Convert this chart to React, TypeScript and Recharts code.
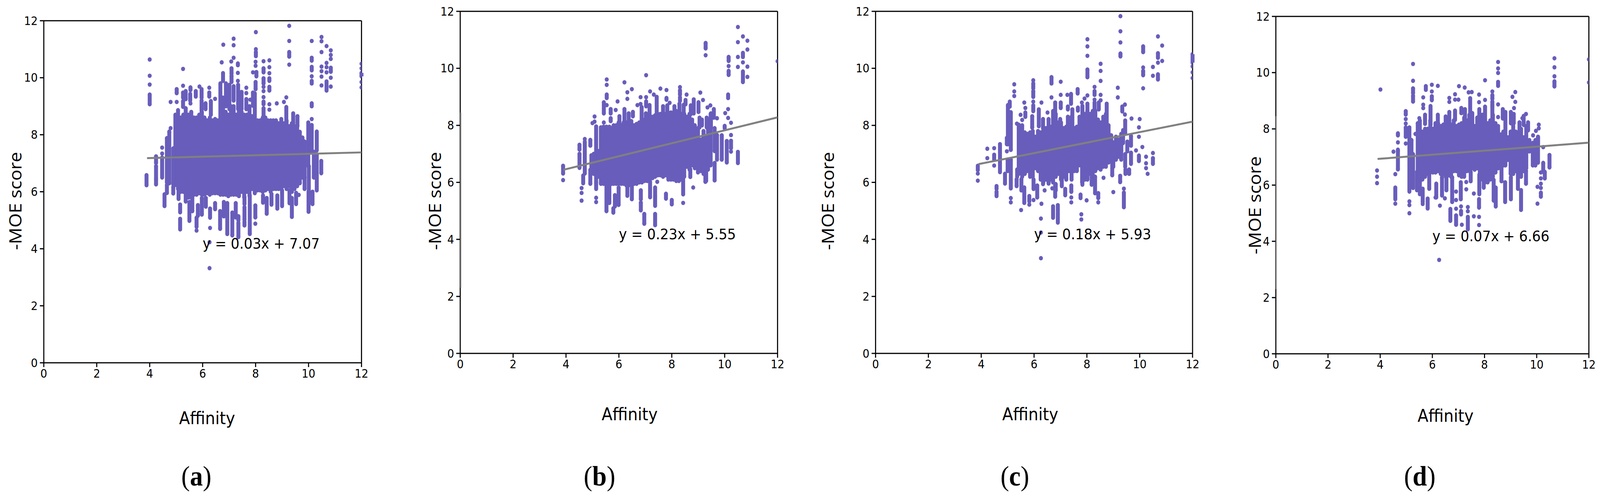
import { ScatterChart, Scatter, XAxis, YAxis, ErrorBar, ReferenceLine, ReferenceDot } from "recharts";

type Run = [number, number, number];
type Dot = [number, number];

const ticks = [0, 2, 4, 6, 8, 10, 12];

// solid stacks of overlapping dots: x, low, high
const coreA: Run[] = [
  [4.97, 6.24, 8.7], [5.07, 6.1, 8.86], [5.17, 6.0, 8.6], [5.27, 6.0, 8.7], [5.37, 5.9, 8.7], [5.47, 5.8, 8.7],
  [5.57, 5.8, 8.8], [5.67, 5.9, 8.6], [5.77, 5.9, 8.6], [5.87, 5.95, 8.7], [5.97, 5.9, 8.8], [6.07, 5.9, 8.6],
  [6.17, 5.95, 8.5], [6.27, 5.9, 8.6], [6.37, 5.95, 8.5], [6.47, 5.95, 8.55], [6.57, 5.95, 8.5], [6.67, 5.9, 9.8],
  [6.77, 5.9, 9.3], [6.87, 5.9, 8.8], [6.97, 5.85, 8.7], [7.07, 5.9, 9.0], [7.17, 5.9, 9.0], [7.27, 5.9, 8.7],
  [7.37, 5.85, 8.8], [7.47, 6.0, 8.8], [7.57, 5.8, 8.7], [7.67, 6.0, 8.7], [7.77, 5.85, 9.0], [7.87, 6.1, 8.65],
  [7.97, 5.95, 9.45], [8.07, 6.05, 8.5], [8.17, 6.05, 8.5], [8.27, 6.0, 8.6], [8.37, 6.05, 8.6], [8.47, 6.1, 8.5],
  [8.57, 6.0, 8.5], [8.67, 6.1, 8.5], [8.77, 6.1, 8.5], [8.87, 6.1, 8.4], [8.97, 6.1, 8.55], [9.07, 6.2, 8.4],
  [9.17, 6.1, 8.5], [9.27, 6.2, 8.3], [9.37, 6.0, 8.4], [9.47, 6.1, 8.3], [9.57, 6.2, 8.3], [9.67, 6.3, 8.1],
  [9.77, 6.5, 7.9],
];

const fringeA: Run[] = [
  [3.88, 6.23, 6.58], [4.0, 9.07, 9.41], [4.24, 7.01, 7.24], [4.24, 6.46, 6.9], [4.24, 6.26, 6.42],
  [4.47, 6.5, 7.2], [4.56, 5.5, 5.91], [4.65, 5.96, 6.24], [4.65, 6.33, 7.88], [4.74, 6.3, 8.11],
  [4.89, 5.94, 6.17], [4.89, 6.26, 7.52], [5.02, 9.46, 9.6], [5.09, 5.75, 6.15], [5.15, 5.28, 5.55],
  [5.15, 4.68, 5.05], [5.26, 9.3, 9.48], [5.26, 8.98, 9.18], [5.36, 9.25, 9.53], [5.36, 5.66, 6.0],
  [5.36, 8.7, 8.93], [5.5, 4.98, 5.64], [5.53, 9.2, 9.43], [5.54, 9.57, 9.66], [5.61, 5.32, 5.8],
  [5.74, 9.34, 9.53], [5.77, 4.77, 5.09], [5.82, 5.16, 5.53], [5.96, 9.3, 9.6], [5.96, 8.57, 9.2],
  [5.97, 5.2, 5.78], [6.11, 8.9, 9.1], [6.12, 5.48, 5.78], [6.25, 9.34, 9.48], [6.28, 5.09, 5.41],
  [6.31, 8.7, 9.18], [6.47, 5.39, 5.6], [6.66, 4.7, 5.32], [6.77, 9.89, 10.16], [6.8, 5.14, 5.64],
  [6.88, 9.0, 9.8], [6.93, 4.52, 5.6], [7.01, 8.9, 9.75], [7.09, 10.14, 10.33], [7.09, 9.85, 10.07],
  [7.12, 4.47, 5.27], [7.17, 9.2, 9.7], [7.25, 5.1, 5.6], [7.33, 10.44, 10.5], [7.34, 8.9, 9.75],
  [7.35, 4.41, 4.91], [7.35, 5.0, 5.14], [7.47, 8.9, 9.5], [7.58, 5.57, 5.82], [7.58, 5.02, 5.46],
  [7.58, 4.82, 4.95], [7.65, 8.9, 9.25], [7.78, 4.52, 5.87], [7.9, 9.02, 9.48],
  [7.99, 5.1, 5.52], [8.0, 9.6, 9.85], [8.01, 10.76, 10.9], [8.03, 10.05, 10.2], [8.28, 5.62, 5.87],
  [8.3, 10.19, 10.33], [8.3, 9.8, 9.98], [8.3, 9.07, 9.16], [8.3, 8.6, 8.93], [8.42, 5.23, 5.78],
  [8.52, 9.89, 9.98], [8.52, 9.55, 9.68], [8.6, 5.55, 5.92], [8.82, 5.41, 5.87], [9.0, 5.5, 6.05],
  [9.16, 8.5, 8.97], [9.27, 10.74, 10.9], [9.28, 5.6, 6.05], [9.37, 5.12, 5.78], [9.42, 8.4, 8.75],
  [9.53, 5.57, 5.96], [9.58, 8.3, 8.65], [9.85, 6.5, 7.76], [9.85, 6.1, 6.5], [9.99, 6.9, 8.43],
  [10.0, 5.3, 6.0], [10.01, 6.0, 6.9], [10.12, 10.6, 10.7], [10.12, 10.26, 10.38], [10.12, 9.8, 9.89],
  [10.12, 9.0, 9.1], [10.12, 7.4, 8.34], [10.15, 5.57, 6.0], [10.2, 6.5, 7.4], [10.31, 7.45, 8.11],
  [10.31, 6.05, 7.3], [10.48, 6.65, 7.08], [10.68, 9.55, 9.87], [10.84, 10.21, 10.35], [12, 10.05, 10.17],
];

const dotsA: Dot[] = [
  [4.0, 10.64], [4.0, 10.07], [4.0, 9.76], [4.47, 7.55], [4.47, 7.34], [4.79, 9.15], [4.79, 8.23], [5.02, 9.15],
  [5.26, 10.31], [5.26, 9.72], [5.54, 9.1], [5.88, 9.69], [6.25, 9.65], [6.28, 4.73], [6.26, 4.23], [6.26, 3.32],
  [6.47, 9.26], [6.72, 10.54], [6.78, 11.16], [7.17, 11.37], [7.17, 11.14], [7.17, 10.7], [7.08, 10.57], [7.33, 10.17],
  [7.33, 9.89], [7.65, 9.65], [7.65, 9.46], [7.8, 9.23], [7.9, 10.19], [8.01, 11.6], [8.01, 11.0], [8.0, 10.56], [8.0, 10.42],
  [7.99, 4.88], [8.3, 10.58], [8.3, 9.68], [8.3, 9.53], [8.3, 9.32], [8.52, 10.61], [8.52, 10.37], [8.52, 10.16],
  [8.52, 9.07], [8.52, 8.88], [8.8, 9.1], [9.07, 9.15], [9.16, 9.31], [9.27, 11.82], [9.27, 11.29], [9.27, 10.46],
  [9.63, 5.89], [10.12, 11.29], [10.12, 10.05], [10.12, 8.55], [10.49, 11.43], [10.49, 11.28], [10.49, 10.9],
  [10.49, 10.39], [10.49, 10.23], [10.49, 10.04], [10.49, 9.73], [10.68, 11.11], [10.68, 10.52], [10.68, 10.37],
  [10.68, 10.19], [10.84, 10.96], [10.84, 10.8], [10.84, 10.66], [10.84, 10.0], [10.84, 9.69], [12, 10.49],
  [12, 10.33], [12, 9.85], [12, 9.66], [5.77, 4.64],
];

const coreB: Run[] = [
  [5.14, 6.0, 7.96], [5.24, 6.2, 7.1], [5.32, 5.95, 7.93], [5.42, 5.95, 7.95], [5.53, 5.9, 7.95], [5.64, 5.9, 7.95],
  [5.72, 5.95, 7.9], [5.8, 5.95, 8.0], [5.9, 5.95, 8.0], [5.99, 5.95, 8.1], [6.09, 5.95, 8.0], [6.18, 5.95, 8.1],
  [6.28, 5.9, 8.1], [6.37, 5.9, 8.1], [6.47, 5.9, 8.15], [6.57, 5.95, 8.0], [6.67, 5.95, 8.05], [6.77, 6.0, 8.1],
  [6.87, 6.0, 8.2], [6.97, 6.05, 8.2], [7.07, 6.05, 8.3], [7.17, 6.1, 8.3], [7.27, 6.15, 8.3], [7.37, 6.2, 8.35],
  [7.47, 6.25, 8.4], [7.57, 6.25, 8.4], [7.67, 6.2, 8.35], [7.77, 6.25, 8.4], [7.87, 6.1, 8.45], [7.97, 6.1, 8.45],
  [8.07, 6.1, 8.45], [8.17, 6.05, 8.5], [8.27, 6.05, 8.45], [8.37, 6.1, 8.4], [8.47, 6.2, 8.4], [8.57, 6.55, 8.3],
  [8.67, 6.45, 8.4], [8.77, 6.6, 8.2], [8.87, 6.5, 8.0], [8.99, 6.35, 7.9], [9.1, 6.4, 7.5], [9.2, 6.3, 7.8],
  [9.3, 6.05, 7.6], [9.37, 6.45, 8.2], [9.47, 6.6, 8.4],
];

const fringeB: Run[] = [
  [3.89, 6.31, 6.58], [4.51, 7.15, 7.32], [4.51, 6.51, 7.0], [4.71, 6.31, 7.42], [4.65, 5.97, 6.24],
  [4.92, 7.29, 7.49], [4.92, 5.95, 6.44], [4.96, 6.45, 6.95], [5.05, 6.3, 7.0], [5.14, 5.77, 6.0],
  [5.43, 8.42, 8.81], [5.53, 4.99, 5.97], [5.54, 8.96, 9.08], [5.64, 5.28, 5.97], [5.69, 8.42, 8.57],
  [5.69, 8.15, 8.25], [5.79, 4.94, 5.09], [5.85, 5.16, 5.55], [5.99, 5.21, 5.82], [6.02, 7.98, 8.32],
  [6.21, 8.03, 8.57], [6.32, 5.53, 5.97], [6.37, 8.13, 8.42], [6.49, 5.41, 5.97], [6.53, 8.32, 8.47],
  [6.83, 5.41, 5.72], [6.83, 5.02, 5.29], [6.86, 8.03, 8.64], [6.96, 4.55, 4.89], [7.02, 8.13, 8.42],
  [7.03, 8.67, 8.84], [7.16, 8.32, 8.71], [7.18, 5.48, 6.02], [7.37, 5.5, 5.82], [7.37, 5.18, 5.48],
  [7.37, 4.5, 4.89], [7.43, 8.76, 9.0], [7.43, 8.32, 8.71], [7.67, 8.32, 8.67], [7.78, 5.43, 5.6],
  [7.8, 8.9, 8.96], [7.83, 8.32, 8.7], [8.0, 5.23, 5.38], [8.1, 8.42, 8.67], [8.29, 8.42, 8.76],
  [8.31, 9.08, 9.23], [8.31, 8.86, 8.98], [8.43, 5.58, 6.32], [8.45, 8.4, 8.72], [8.52, 8.74, 8.89],
  [8.7, 6.19, 6.46], [8.72, 8.4, 8.7], [8.83, 8.42, 8.91], [9.01, 8.47, 8.81], [9.05, 7.93, 8.27],
  [9.14, 8.0, 8.2], [9.27, 6.02, 6.4], [9.28, 10.7, 10.89], [9.32, 7.93, 8.27], [9.48, 7.93, 8.42],
  [9.59, 8.27, 8.57], [9.62, 6.07, 6.68], [9.62, 7.1, 7.9], [9.71, 6.8, 7.66], [9.89, 6.8, 7.65],
  [10.0, 7.9, 7.98], [10.08, 6.7, 7.45], [10.13, 8.96, 9.08], [10.15, 10.26, 10.4], [10.15, 9.77, 9.91],
  [10.24, 7.2, 7.46], [10.5, 6.68, 7.07], [10.69, 10.4, 10.54], [10.69, 9.52, 9.89],
];

const dotsB: Dot[] = [
  [3.89, 6.08], [4.59, 5.8], [4.59, 5.63], [4.59, 5.36], [4.71, 7.52], [5.08, 8.31], [5.08, 8.13], [5.0, 8.08],
  [5.14, 5.46], [5.14, 5.31], [5.02, 6.9], [5.43, 8.1], [5.54, 9.61], [5.54, 9.42], [5.54, 8.71], [5.88, 8.54],
  [5.95, 8.84], [6.21, 9.51], [6.32, 9.16], [6.32, 8.93], [6.49, 9.27], [6.82, 8.99], [6.82, 8.75], [6.7, 8.71],
  [7.03, 9.76], [7.03, 8.99], [7.18, 9.19], [7.32, 9.08], [7.45, 6.02], [7.57, 9.29], [7.8, 9.24], [7.92, 8.79],
  [8.31, 9.34], [8.43, 5.28], [8.56, 9.08], [8.81, 5.82], [9.08, 9.15], [9.18, 8.89], [9.35, 8.63],
  [9.46, 8.7], [9.28, 10.46], [9.71, 8.25], [10.02, 8.43], [10.13, 8.57], [10.13, 8.26], [10.15, 10.08], [10.24, 8.09],
  [10.24, 7.66], [10.24, 7.08], [10.5, 11.45], [10.5, 10.92], [10.5, 10.4], [10.5, 10.05], [10.69, 11.12], [10.69, 10.21],
  [10.86, 10.97], [10.86, 10.66], [10.86, 10.06], [10.86, 9.7], [12, 10.25],
];

const coreC: Run[] = [
  [5.42, 6.3, 7.9], [5.55, 6.2, 8.0], [5.65, 6.3, 7.75], [5.75, 6.4, 7.7], [5.85, 6.2, 7.75], [5.95, 6.2, 7.8],
  [6.05, 6.5, 7.6], [6.15, 6.4, 7.8], [6.25, 6.1, 7.75], [6.35, 6.0, 7.9], [6.45, 6.1, 7.9], [6.55, 6.0, 7.85],
  [6.65, 6.1, 7.95], [6.72, 6.0, 8.5], [6.82, 6.2, 8.4], [6.92, 6.3, 8.1], [7.02, 6.1, 8.1], [7.12, 6.2, 7.9],
  [7.22, 6.1, 7.95], [7.32, 6.4, 7.95], [7.42, 6.1, 8.3], [7.52, 6.4, 7.9], [7.62, 6.4, 7.95], [7.72, 6.6, 8.3],
  [7.82, 6.0, 8.3], [7.92, 6.1, 8.4], [8.02, 6.1, 8.5], [8.12, 6.3, 8.4], [8.22, 6.2, 8.5], [8.32, 6.4, 8.5],
  [8.42, 6.5, 8.2], [8.52, 6.45, 8.1], [8.62, 6.55, 8.3], [8.72, 6.55, 8.4], [8.82, 6.7, 8.0], [8.92, 6.9, 7.65],
  [9.0, 6.55, 7.4], [9.1, 6.8, 7.6], [9.2, 6.9, 7.5], [9.3, 7.1, 7.7],
];

const fringeC: Run[] = [
  [3.87, 6.43, 6.58], [4.49, 6.8, 6.97], [4.58, 5.77, 5.87], [4.58, 5.52, 5.67], [4.71, 6.36, 7.34],
  [4.9, 5.96, 6.3], [4.97, 7.34, 7.56], [5.01, 7.34, 8.71], [5.08, 8.66, 8.83], [5.12, 7.14, 8.46],
  [5.12, 5.79, 6.8], [5.0, 6.4, 6.8], [5.36, 6.2, 6.45], [5.34, 5.87, 6.11], [5.42, 7.9, 8.02],
  [5.52, 5.72, 6.11], [5.63, 5.28, 5.82], [5.67, 8.3, 8.45], [5.82, 5.33, 5.52], [5.93, 7.92, 8.32],
  [5.97, 9.3, 9.47], [5.97, 9.0, 9.2], [5.97, 8.5, 8.7], [5.98, 5.77, 6.1], [6.12, 5.47, 5.89],
  [6.18, 7.97, 8.56], [6.34, 5.94, 6.45], [6.34, 7.9, 8.22], [6.55, 7.92, 8.22], [6.55, 5.96, 6.21],
  [6.66, 9.47, 9.69], [6.72, 4.76, 5.16], [6.8, 5.5, 5.9], [6.8, 7.92, 8.8], [6.82, 5.72, 5.94],
  [6.9, 4.59, 4.93], [6.9, 5.0, 5.2], [6.99, 7.92, 8.22], [7.01, 8.61, 8.8], [7.05, 5.87, 6.45],
  [7.18, 5.55, 5.77], [7.28, 7.92, 8.3], [7.28, 8.56, 8.66], [7.4, 8.76, 9.1], [7.41, 5.67, 5.89],
  [7.45, 7.92, 8.56], [7.65, 9.12, 9.27], [7.66, 8.52, 8.62], [7.76, 5.45, 5.57], [7.83, 5.92, 6.2],
  [7.83, 8.27, 8.68], [8.02, 9.69, 9.96], [8.02, 8.5, 8.76], [8.18, 5.92, 6.2], [8.29, 9.07, 9.2],
  [8.29, 8.27, 8.8], [8.31, 5.62, 6.2], [8.43, 5.45, 5.62], [8.45, 8.56, 8.8], [8.75, 8.07, 8.76],
  [8.96, 6.25, 6.8], [9.26, 6.01, 6.23], [9.27, 10.42, 10.52], [9.3, 6.8, 7.48], [9.34, 8.49, 8.66],
  [9.37, 7.38, 7.83], [9.4, 5.13, 5.64], [9.45, 6.55, 6.99], [9.45, 7.73, 8.17], [9.46, 6.3, 6.45],
  [9.53, 7.09, 7.43], [9.6, 6.3, 6.45], [9.67, 7.29, 7.63], [9.67, 6.65, 7.04], [9.97, 6.75, 6.94],
  [10.13, 10.57, 10.77], [10.13, 9.76, 9.91], [10.5, 6.65, 6.85], [10.69, 10.37, 10.53], [10.69, 9.61, 9.79],
  [12, 10.2, 10.5],
];

const dotsC: Dot[] = [
  [3.87, 6.31], [3.87, 6.06], [4.23, 7.18], [4.23, 6.85], [4.49, 7.2], [4.49, 6.59], [4.97, 7.09], [5.12, 5.45],
  [5.12, 5.3], [5.25, 9.44], [5.25, 9.19], [5.25, 9.03], [5.35, 8.06], [5.51, 5.03], [5.49, 8.37], [5.55, 8.19],
  [5.63, 8.8], [5.67, 8.61], [5.82, 5.22], [5.97, 9.58], [5.97, 8.83], [5.98, 5.38], [6.28, 5.25], [6.28, 8.8],
  [6.26, 4.73], [6.26, 4.24], [6.26, 3.34], [6.51, 8.45], [6.66, 8.98], [7.01, 9.53], [7.01, 9.07], [6.4, 5.72],
  [6.69, 5.79], [7.26, 9.07], [7.41, 5.47], [7.41, 5.3], [7.79, 4.88], [7.79, 4.7], [7.99, 5.37], [8.02, 11.02],
  [8.02, 10.77], [8.02, 10.44], [7.91, 8.94], [8.02, 9.05], [7.81, 8.8], [8.29, 9.35], [8.29, 8.9], [8.52, 10.16],
  [8.52, 9.91], [8.52, 9.56], [8.52, 9.07], [8.52, 8.88], [8.43, 5.3], [8.63, 6.16], [9.0, 5.66], [9.17, 9.32],
  [9.17, 8.98], [9.27, 11.83], [9.27, 11.3], [9.27, 10.91], [9.4, 5.78], [9.44, 8.73], [9.44, 8.38], [9.69, 8.24],
  [10.0, 8.22], [9.97, 7.93], [9.97, 7.6], [9.86, 7.12], [10.1, 7.24], [10.13, 10.03], [10.13, 9.3], [10.5, 10.05],
  [10.5, 9.74], [10.5, 7.03], [10.69, 11.12], [10.69, 10.2], [10.85, 10.8], [10.85, 10.26], [10.24, 6.9], [10.24, 6.67],
  [10.24, 6.5], [10.3, 6.3], [12, 10.07], [12, 9.86], [12, 9.66],
];

const coreD: Run[] = [
  [5.44, 6.3, 8.2], [5.52, 6.1, 8.3], [5.62, 6.2, 7.9], [5.72, 6.3, 8.0], [5.82, 6.4, 8.0], [5.92, 6.45, 8.3],
  [6.02, 6.45, 8.0], [6.12, 6.45, 8.2], [6.22, 6.5, 8.2], [6.32, 6.4, 8.1], [6.42, 6.4, 8.15], [6.52, 6.3, 8.2],
  [6.62, 6.35, 8.3], [6.72, 6.3, 8.15], [6.82, 6.5, 8.3], [6.92, 6.5, 8.1], [7.02, 6.35, 8.15], [7.12, 6.3, 8.2],
  [7.22, 6.3, 8.4], [7.32, 6.5, 8.3], [7.42, 6.5, 8.5], [7.52, 6.6, 8.2], [7.62, 6.55, 8.1], [7.72, 6.6, 8.4],
  [7.82, 6.2, 8.5], [7.92, 6.2, 8.5], [8.02, 6.1, 8.3], [8.12, 6.1, 8.2], [8.22, 6.2, 8.3], [8.32, 6.3, 8.5],
  [8.42, 6.45, 8.2], [8.52, 6.6, 8.1], [8.62, 6.7, 7.8], [8.72, 6.7, 7.9], [8.8, 6.7, 8.6], [8.9, 6.9, 7.7],
  [9.0, 6.4, 7.9], [9.1, 6.4, 8.1], [9.2, 6.5, 7.9], [9.3, 6.4, 7.8], [9.4, 6.3, 8.0], [9.5, 6.5, 7.7],
  [9.6, 6.6, 8.1], [9.72, 7.2, 7.6], [9.85, 6.7, 7.5], [9.95, 6.7, 7.6], [10.05, 6.8, 7.7],
];

const fringeD: Run[] = [
  [4.58, 5.5, 5.91], [4.68, 7.77, 7.84], [4.68, 6.56, 7.26], [4.98, 8.51, 8.63], [4.98, 7.72, 8.05],
  [5.12, 5.77, 8.05], [5.26, 9.27, 9.44], [5.26, 8.97, 9.18], [5.26, 5.9, 7.1], [5.2, 6.2, 7.6],
  [5.41, 5.82, 6.47], [5.52, 5.68, 6.2], [5.63, 5.4, 5.87], [5.72, 8.18, 8.5], [5.75, 9.39, 9.52],
  [5.82, 5.17, 5.52], [5.88, 5.87, 6.38], [5.93, 8.14, 8.81], [5.98, 9.02, 9.16], [6.15, 5.56, 6.05],
  [6.21, 8.14, 8.5], [6.37, 5.63, 6.28], [6.51, 8.2, 8.44], [6.54, 5.82, 6.28], [6.65, 8.18, 8.6],
  [6.69, 4.73, 5.15], [6.76, 5.4, 6.28], [6.87, 8.32, 8.65], [6.91, 4.59, 4.92], [7.09, 5.5, 6.1],
  [7.1, 4.96, 5.08], [7.11, 8.56, 8.74], [7.25, 8.32, 8.7], [7.36, 4.43, 4.87], [7.45, 8.42, 9.09],
  [7.47, 6.14, 6.47], [7.53, 8.18, 8.56], [7.79, 5.2, 5.5], [7.8, 5.68, 6.37], [7.8, 8.28, 8.7],
  [7.97, 5.91, 6.28], [8.02, 8.32, 8.79], [8.3, 8.32, 8.79], [8.3, 8.83, 8.97], [8.3, 9.07, 9.2],
  [8.35, 5.45, 6.19], [8.43, 5.24, 5.91], [8.52, 9.53, 9.67], [8.65, 6.14, 6.6], [8.7, 8.37, 8.7],
  [8.79, 5.4, 6.1], [9.01, 5.5, 6.28], [9.01, 8.2, 8.6], [9.12, 8.2, 8.53], [9.28, 5.87, 6.47],
  [9.34, 7.9, 8.23], [9.4, 5.12, 5.82], [9.5, 8.14, 8.46], [9.59, 6.05, 6.52], [9.67, 7.95, 8.23],
  [9.94, 6.75, 7.2], [10.05, 7.4, 7.72], [10.25, 6.47, 6.79], [10.31, 6.24, 6.47], [10.16, 5.59, 5.73],
  [10.49, 6.63, 7.07], [10.68, 9.51, 9.69],
];

const dotsD: Dot[] = [
  [3.88, 6.52], [3.88, 6.3], [3.88, 6.07], [4.01, 9.4], [4.51, 7.19], [4.58, 6.39], [4.58, 5.34], [4.68, 7.52],
  [4.68, 7.21], [4.98, 8.35], [4.98, 8.19], [4.98, 7.48], [5.12, 5.42], [5.12, 5.29], [5.12, 5.0], [5.26, 10.31],
  [5.26, 9.71], [5.35, 7.82], [5.98, 9.57], [5.98, 9.33], [6.21, 9.53], [5.65, 9.12], [5.65, 8.86], [5.65, 8.74],
  [5.93, 8.7], [5.5, 8.38], [7.02, 9.52], [7.24, 9.47], [6.87, 9.23], [6.87, 9.04], [6.65, 9.1], [6.65, 8.96],
  [7.0, 9.04], [7.39, 9.3], [7.51, 9.31], [7.79, 9.22], [7.79, 8.95], [8.02, 9.73], [8.02, 9.03], [8.3, 9.33],
  [8.52, 10.38], [8.52, 10.15], [8.52, 9.99], [8.52, 8.87], [8.52, 8.42], [9.18, 9.31], [9.18, 8.96], [9.07, 9.14],
  [9.13, 8.74], [10.68, 10.51], [10.68, 10.19], [10.68, 9.87], [12, 10.47], [12, 9.65], [10.08, 8.15], [10.08, 8.02],
  [9.97, 7.93], [9.86, 7.77], [10.25, 7.35], [10.16, 6.45], [10.16, 6.24], [10.16, 6.05], [10.16, 5.9], [10.03, 5.94],
  [10.03, 5.34], [9.59, 8.53], [9.45, 8.38], [7.79, 4.87], [7.79, 4.58], [7.59, 5.7], [7.59, 4.89], [7.36, 5.22],
  [7.36, 5.07], [7.3, 6.11], [7.3, 5.85], [7.1, 5.24], [7.13, 4.59], [6.91, 5.16], [6.91, 5.77], [6.91, 5.47],
  [6.29, 5.27], [6.48, 5.53], [6.12, 5.56], [5.63, 5.33], [6.26, 3.34],
];

const fitA: Dot[] = [[3.9, 7.18], [12, 7.38]];
const fitB: Dot[] = [[3.9, 6.44], [12, 8.28]];
const fitC: Dot[] = [[3.9, 6.64], [12, 8.13]];
const fitD: Dot[] = [[3.9, 6.93], [12, 7.51]];

// stretch of the left spine that shows grey in (b) and (d)
const spinePatch: Dot[] = [[0, 2.3], [0, 8.45]];

const PURPLE = "#685DBB";
const GREY = "#808080";
const PAD = 170;
const W = 4457;
const H = 1279;
const FONT = "DejaVu Sans";

interface PanelProps {
  plot: { left: number; right: number; top: number; bottom: number };
  runs: Run[];
  dots: Dot[];
  fit: Dot[];
  equation: string;
  yTitleX: number;
  yTitleY: number;
  xTitleX: number;
  xTitleY: number;
  letter: string;
  letterX: number;
  patch?: string;
}

function Panel({ plot, runs, dots, fit, equation, yTitleX, yTitleY, xTitleX, xTitleY, letter, letterX, patch }: PanelProps) {
  const width = plot.right - plot.left + PAD + 50;
  const runData = runs.map(([x, lo, hi]) => ({ x, y: lo, err: [0, hi - lo] }));
  const pointData = [
    ...runs.flatMap(([x, lo, hi]) => [{ x, y: lo }, { x, y: hi }]),
    ...dots.map(([x, y]) => ({ x, y })),
  ];
  const fitData = fit.map(([x, y]) => ({ x, y }));
  const left = plot.left - PAD;
  return (
    <>
      <div style={{ position: "absolute", left, top: 0 }}>
        <ScatterChart
          width={width}
          height={H}
          margin={{ left: PAD - 60, right: 50, top: plot.top, bottom: H - plot.bottom - 60 }}
        >
          <XAxis
            type="number"
            dataKey="x"
            domain={[0, 12]}
            ticks={ticks}
            allowDataOverflow
            height={60}
            tickSize={11}
            tickMargin={6}
            interval={0}
            stroke="#000"
            strokeWidth={3}
            tick={{ fontSize: 30, fontFamily: FONT, fill: "#000" }}
          />
          <YAxis
            type="number"
            dataKey="y"
            domain={[0, 12]}
            ticks={ticks}
            allowDataOverflow
            width={60}
            tickSize={11}
            tickMargin={6}
            interval={0}
            stroke="#000"
            strokeWidth={3}
            tick={{ fontSize: 30, fontFamily: FONT, fill: "#000" }}
          />
          <ReferenceLine x={12} stroke="#000" strokeWidth={3} />
          <ReferenceLine y={12} stroke="#000" strokeWidth={3} />
          {patch && (
            <Scatter
              data={spinePatch.map(([x, y]) => ({ x, y }))}
              isAnimationActive={false}
              line={{ stroke: patch, strokeWidth: 6 }}
              shape={() => null}
            />
          )}
          <Scatter data={runData} isAnimationActive={false} shape={() => null}>
            <ErrorBar dataKey="err" direction="y" width={0} stroke={PURPLE} strokeWidth={11} isAnimationActive={false} />
          </Scatter>
          <Scatter
            data={pointData}
            isAnimationActive={false}
            shape={(p: any) => <circle cx={p.cx} cy={p.cy} r={5.6} fill={PURPLE} />}
          />
          <Scatter
            data={fitData}
            isAnimationActive={false}
            line={{ stroke: GREY, strokeWidth: 5 }}
            shape={() => null}
          />
          <ReferenceDot
            x={6}
            y={4}
            r={0}
            ifOverflow="visible"
            shape={(p: any) => (
              <text x={p.cx} y={p.cy} fontSize={38} fontFamily={FONT} fill="#000">
                {equation}
              </text>
            )}
          />
          <text
            x={yTitleX - left}
            y={yTitleY}
            fontSize={47}
            fontFamily="Open Sans"
            fill="#000"
            textAnchor="middle"
            dominantBaseline="central"
            transform={`rotate(-90 ${yTitleX - left} ${yTitleY})`}
          >
            -MOE score
          </text>
          <text
            x={xTitleX - left}
            y={xTitleY}
            fontSize={44}
            fontFamily={FONT}
            fill="#000"
            textAnchor="middle"
            dominantBaseline="central"
          >
            Affinity
          </text>
        </ScatterChart>
      </div>
      <div
        style={{
          position: "absolute",
          left: letterX - 100,
          top: 1170,
          width: 200,
          textAlign: "center",
          fontFamily: "Liberation Serif",
          fontSize: 72,
          lineHeight: "96px",
          color: "#000",
        }}
      >
        (<b>{letter}</b>)
      </div>
    </>
  );
}

export default function App() {
  // the browser window can come out narrower than the 4457px layout
  const fit = Math.min(1, window.innerWidth / W);
  return (
    <div
      style={{
        position: "absolute",
        left: 0,
        top: 0,
        width: W,
        height: H,
        background: "#fff",
        transform: `scaleX(${fit})`,
        transformOrigin: "0 0",
      }}
    >
      <Panel
        plot={{ left: 122, right: 1007, top: 53, bottom: 928 }}
        runs={[...coreA, ...fringeA]}
        dots={dotsA}
        fit={fitA}
        equation="y = 0.03x + 7.07"
        yTitleX={42}
        yTitleY={514}
        xTitleX={577}
        xTitleY={1070}
        letter="a"
        letterX={547}
      />
      <Panel
        plot={{ left: 1282, right: 2166, top: 29, bottom: 904 }}
        runs={[...coreB, ...fringeB]}
        dots={dotsB}
        fit={fitB}
        equation="y = 0.23x + 5.55"
        yTitleX={1210}
        yTitleY={514}
        xTitleX={1754}
        xTitleY={1060}
        letter="b"
        letterX={1670}
        patch="#8a8a8a"
      />
      <Panel
        plot={{ left: 2439, right: 3322, top: 29, bottom: 904 }}
        runs={[...coreC, ...fringeC]}
        dots={dotsC}
        fit={fitC}
        equation="y = 0.18x + 5.93"
        yTitleX={2305}
        yTitleY={514}
        xTitleX={2870}
        xTitleY={1060}
        letter="c"
        letterX={2827}
      />
      <Panel
        plot={{ left: 3554, right: 4426, top: 42, bottom: 905 }}
        runs={[...coreD, ...fringeD]}
        dots={dotsD}
        fit={fitD}
        equation="y = 0.07x + 6.66"
        yTitleX={3494}
        yTitleY={525}
        xTitleX={4027}
        xTitleY={1064}
        letter="d"
        letterX={3955}
        patch="#aaaaaa"
      />
    </div>
  );
}
